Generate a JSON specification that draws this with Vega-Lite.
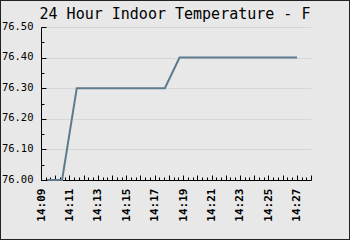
{
  "$schema": "https://vega.github.io/schema/vega-lite/v6.json",
  "width": 350,
  "height": 240,
  "autosize": "none",
  "padding": 0,
  "background": "#e8e8e8",
  "title": {
    "text": "24 Hour Indoor Temperature - F",
    "font": "DejaVu Sans Mono",
    "fontSize": 15,
    "fontWeight": "normal",
    "color": "#000000",
    "anchor": "middle",
    "offset": -22
  },
  "data": {
    "values": [
      {"time": "2024-01-01T14:09:27", "temp": 76.0},
      {"time": "2024-01-01T14:10:29", "temp": 76.0},
      {"time": "2024-01-01T14:11:31", "temp": 76.3},
      {"time": "2024-01-01T14:12:33", "temp": 76.3},
      {"time": "2024-01-01T14:13:35", "temp": 76.3},
      {"time": "2024-01-01T14:14:37", "temp": 76.3},
      {"time": "2024-01-01T14:15:39", "temp": 76.3},
      {"time": "2024-01-01T14:16:41", "temp": 76.3},
      {"time": "2024-01-01T14:17:43", "temp": 76.3},
      {"time": "2024-01-01T14:18:45", "temp": 76.4},
      {"time": "2024-01-01T14:19:47", "temp": 76.4},
      {"time": "2024-01-01T14:20:49", "temp": 76.4},
      {"time": "2024-01-01T14:21:51", "temp": 76.4},
      {"time": "2024-01-01T14:22:53", "temp": 76.4},
      {"time": "2024-01-01T14:23:55", "temp": 76.4},
      {"time": "2024-01-01T14:24:57", "temp": 76.4},
      {"time": "2024-01-01T14:25:59", "temp": 76.4},
      {"time": "2024-01-01T14:27:01", "temp": 76.4}
    ]
  },
  "layer": [
    {
      "mark": {"type": "line", "color": "#5d7b8d", "strokeWidth": 2},
      "encoding": {
        "x": {
          "field": "time", "type": "temporal",
          "scale": {"domain": [{"year": 2024, "month": 1, "date": 1, "hours": 14, "minutes": 9}, {"year": 2024, "month": 1, "date": 1, "hours": 14, "minutes": 28}], "range": [41, 311], "nice": false},
          "axis": {
            "orient": "bottom", "offset": -60, "title": null,
            "values": [
              {"year": 2024, "month": 1, "date": 1, "hours": 14, "minutes": 9},
              {"year": 2024, "month": 1, "date": 1, "hours": 14, "minutes": 11},
              {"year": 2024, "month": 1, "date": 1, "hours": 14, "minutes": 13},
              {"year": 2024, "month": 1, "date": 1, "hours": 14, "minutes": 15},
              {"year": 2024, "month": 1, "date": 1, "hours": 14, "minutes": 17},
              {"year": 2024, "month": 1, "date": 1, "hours": 14, "minutes": 19},
              {"year": 2024, "month": 1, "date": 1, "hours": 14, "minutes": 21},
              {"year": 2024, "month": 1, "date": 1, "hours": 14, "minutes": 23},
              {"year": 2024, "month": 1, "date": 1, "hours": 14, "minutes": 25},
              {"year": 2024, "month": 1, "date": 1, "hours": 14, "minutes": 27}
            ],
            "format": "%H:%M", "labelAngle": -90, "labelAlign": "right", "labelBaseline": "middle",
            "ticks": false, "tickSize": 0, "labelPadding": 8, "grid": false,
            "domain": true, "domainColor": "#000000", "domainWidth": 1,
            "labelFont": "DejaVu Sans Mono", "labelFontWeight": "bold", "labelFontSize": 11, "labelColor": "#000000",
            "labelFlush": false, "labelOverlap": false
          }
        },
        "y": {
          "field": "temp", "type": "quantitative",
          "scale": {"domain": [76, 76.5], "range": [180, 27], "nice": false, "zero": false},
          "axis": {
            "orient": "left", "offset": -41, "title": null,
            "values": [76.0, 76.1, 76.2, 76.3, 76.4, 76.5],
            "format": ".2f", "ticks": false, "tickSize": 0, "labelPadding": 8, "labelOffset": -1,
            "grid": true, "gridColor": "#d6d6d6", "gridWidth": 1,
            "domain": true, "domainColor": "#000000", "domainWidth": 1,
            "labelFont": "DejaVu Sans Mono", "labelFontSize": 10.5, "labelColor": "#000000",
            "labelFlush": false, "labelOverlap": false
          }
        }
      }
    },
    {
      "mark": {"type": "line", "opacity": 0},
      "encoding": {
        "x": {
          "field": "time", "type": "temporal",
          "scale": {"domain": [{"year": 2024, "month": 1, "date": 1, "hours": 14, "minutes": 9}, {"year": 2024, "month": 1, "date": 1, "hours": 14, "minutes": 28}], "range": [41, 311], "nice": false},
          "axis": {
            "orient": "bottom", "offset": -60, "title": null,
            "values": [
              {"year": 2024, "month": 1, "date": 1, "hours": 14, "minutes": 9},
              {"year": 2024, "month": 1, "date": 1, "hours": 14, "minutes": 10},
              {"year": 2024, "month": 1, "date": 1, "hours": 14, "minutes": 11},
              {"year": 2024, "month": 1, "date": 1, "hours": 14, "minutes": 12},
              {"year": 2024, "month": 1, "date": 1, "hours": 14, "minutes": 13},
              {"year": 2024, "month": 1, "date": 1, "hours": 14, "minutes": 14},
              {"year": 2024, "month": 1, "date": 1, "hours": 14, "minutes": 15},
              {"year": 2024, "month": 1, "date": 1, "hours": 14, "minutes": 16},
              {"year": 2024, "month": 1, "date": 1, "hours": 14, "minutes": 17},
              {"year": 2024, "month": 1, "date": 1, "hours": 14, "minutes": 18},
              {"year": 2024, "month": 1, "date": 1, "hours": 14, "minutes": 19},
              {"year": 2024, "month": 1, "date": 1, "hours": 14, "minutes": 20},
              {"year": 2024, "month": 1, "date": 1, "hours": 14, "minutes": 21},
              {"year": 2024, "month": 1, "date": 1, "hours": 14, "minutes": 22},
              {"year": 2024, "month": 1, "date": 1, "hours": 14, "minutes": 23},
              {"year": 2024, "month": 1, "date": 1, "hours": 14, "minutes": 24},
              {"year": 2024, "month": 1, "date": 1, "hours": 14, "minutes": 25},
              {"year": 2024, "month": 1, "date": 1, "hours": 14, "minutes": 26},
              {"year": 2024, "month": 1, "date": 1, "hours": 14, "minutes": 27},
              {"year": 2024, "month": 1, "date": 1, "hours": 14, "minutes": 28}
            ],
            "labels": false, "domain": false, "grid": false,
            "ticks": true, "tickSize": -5, "tickColor": "#000000", "tickWidth": 1
          }
        },
        "y": {
          "field": "temp", "type": "quantitative",
          "scale": {"domain": [76, 76.5], "range": [180, 27], "nice": false, "zero": false},
          "axis": {
            "orient": "left", "offset": -41, "title": null,
            "values": [76.0, 76.1, 76.2, 76.3, 76.4, 76.5],
            "labels": false, "domain": false, "grid": false,
            "ticks": true, "tickSize": -5, "tickColor": "#000000", "tickWidth": 1
          }
        }
      }
    },
    {
      "mark": {"type": "line", "opacity": 0},
      "encoding": {
        "x": {
          "field": "time", "type": "temporal",
          "scale": {"domain": [{"year": 2024, "month": 1, "date": 1, "hours": 14, "minutes": 9}, {"year": 2024, "month": 1, "date": 1, "hours": 14, "minutes": 28}], "range": [41, 311], "nice": false},
          "axis": {
            "orient": "bottom", "offset": -60, "title": null,
            "values": [
              {"year": 2024, "month": 1, "date": 1, "hours": 14, "minutes": 9, "seconds": 20},
              {"year": 2024, "month": 1, "date": 1, "hours": 14, "minutes": 9, "seconds": 40},
              {"year": 2024, "month": 1, "date": 1, "hours": 14, "minutes": 10, "seconds": 20},
              {"year": 2024, "month": 1, "date": 1, "hours": 14, "minutes": 10, "seconds": 40},
              {"year": 2024, "month": 1, "date": 1, "hours": 14, "minutes": 11, "seconds": 20},
              {"year": 2024, "month": 1, "date": 1, "hours": 14, "minutes": 11, "seconds": 40},
              {"year": 2024, "month": 1, "date": 1, "hours": 14, "minutes": 12, "seconds": 20},
              {"year": 2024, "month": 1, "date": 1, "hours": 14, "minutes": 12, "seconds": 40},
              {"year": 2024, "month": 1, "date": 1, "hours": 14, "minutes": 13, "seconds": 20},
              {"year": 2024, "month": 1, "date": 1, "hours": 14, "minutes": 13, "seconds": 40},
              {"year": 2024, "month": 1, "date": 1, "hours": 14, "minutes": 14, "seconds": 20},
              {"year": 2024, "month": 1, "date": 1, "hours": 14, "minutes": 14, "seconds": 40},
              {"year": 2024, "month": 1, "date": 1, "hours": 14, "minutes": 15, "seconds": 20},
              {"year": 2024, "month": 1, "date": 1, "hours": 14, "minutes": 15, "seconds": 40},
              {"year": 2024, "month": 1, "date": 1, "hours": 14, "minutes": 16, "seconds": 20},
              {"year": 2024, "month": 1, "date": 1, "hours": 14, "minutes": 16, "seconds": 40},
              {"year": 2024, "month": 1, "date": 1, "hours": 14, "minutes": 17, "seconds": 20},
              {"year": 2024, "month": 1, "date": 1, "hours": 14, "minutes": 17, "seconds": 40},
              {"year": 2024, "month": 1, "date": 1, "hours": 14, "minutes": 18, "seconds": 20},
              {"year": 2024, "month": 1, "date": 1, "hours": 14, "minutes": 18, "seconds": 40},
              {"year": 2024, "month": 1, "date": 1, "hours": 14, "minutes": 19, "seconds": 20},
              {"year": 2024, "month": 1, "date": 1, "hours": 14, "minutes": 19, "seconds": 40},
              {"year": 2024, "month": 1, "date": 1, "hours": 14, "minutes": 20, "seconds": 20},
              {"year": 2024, "month": 1, "date": 1, "hours": 14, "minutes": 20, "seconds": 40},
              {"year": 2024, "month": 1, "date": 1, "hours": 14, "minutes": 21, "seconds": 20},
              {"year": 2024, "month": 1, "date": 1, "hours": 14, "minutes": 21, "seconds": 40},
              {"year": 2024, "month": 1, "date": 1, "hours": 14, "minutes": 22, "seconds": 20},
              {"year": 2024, "month": 1, "date": 1, "hours": 14, "minutes": 22, "seconds": 40},
              {"year": 2024, "month": 1, "date": 1, "hours": 14, "minutes": 23, "seconds": 20},
              {"year": 2024, "month": 1, "date": 1, "hours": 14, "minutes": 23, "seconds": 40},
              {"year": 2024, "month": 1, "date": 1, "hours": 14, "minutes": 24, "seconds": 20},
              {"year": 2024, "month": 1, "date": 1, "hours": 14, "minutes": 24, "seconds": 40},
              {"year": 2024, "month": 1, "date": 1, "hours": 14, "minutes": 25, "seconds": 20},
              {"year": 2024, "month": 1, "date": 1, "hours": 14, "minutes": 25, "seconds": 40},
              {"year": 2024, "month": 1, "date": 1, "hours": 14, "minutes": 26, "seconds": 20},
              {"year": 2024, "month": 1, "date": 1, "hours": 14, "minutes": 26, "seconds": 40},
              {"year": 2024, "month": 1, "date": 1, "hours": 14, "minutes": 27, "seconds": 20},
              {"year": 2024, "month": 1, "date": 1, "hours": 14, "minutes": 27, "seconds": 40}
            ],
            "labels": false, "domain": false, "grid": false,
            "ticks": true, "tickSize": -3, "tickColor": "#000000", "tickWidth": 1
          }
        },
        "y": {
          "field": "temp", "type": "quantitative",
          "scale": {"domain": [76, 76.5], "range": [180, 27], "nice": false, "zero": false},
          "axis": {
            "orient": "left", "offset": -41, "title": null,
            "values": [76.05, 76.15, 76.25, 76.35, 76.45],
            "labels": false, "domain": false, "grid": false,
            "ticks": true, "tickSize": -3, "tickColor": "#000000", "tickWidth": 1
          }
        }
      }
    }
  ],
  "resolve": {"axis": {"x": "independent", "y": "independent"}},
  "config": {
    "view": {"stroke": "#222222", "strokeWidth": 2, "fill": "#e8e8e8"}
  }
}
